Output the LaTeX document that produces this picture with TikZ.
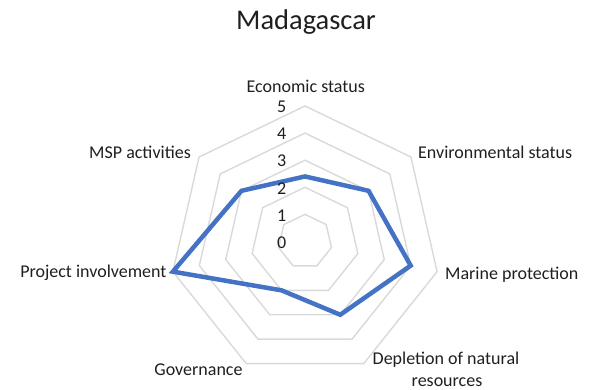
\documentclass[tikz,border=0pt]{standalone}
\usepackage{fontspec}
\setmainfont{Carlito}
\usetikzlibrary{calc}
\definecolor{gridgray}{HTML}{D9D9D9}
\definecolor{serblue}{HTML}{4472C4}
\definecolor{txt}{HTML}{1F1F1F}
\begin{document}
\begin{tikzpicture}[x=1pt,y=1pt,
  gridline/.style={draw=gridgray,line width=1.4pt,line join=miter},
  series/.style={draw=serblue,line width=4.5pt,line join=miter},
  lbl/.style={inner sep=0pt,text=txt,font=\fontsize{18}{22}\selectfont},
  ticklbl/.style={inner sep=0pt,text=txt,font=\fontsize{18}{22}\selectfont},
  titlelbl/.style={inner sep=0pt,text=txt,font=\fontsize{28.5}{33}\selectfont}]
\useasboundingbox (0,0) rectangle (589,390);
\coordinate (C) at (305,148.5);
\def\stp{27.1}
% grid heptagons
\foreach \r in {1,...,5}{
  \draw[gridline] ($(C)+(90:\r*\stp)$)
    \foreach \k in {1,...,6}{ -- ($(C)+({90-\k*360/7}:\r*\stp)$) } -- cycle;
}
% series
\foreach \v [count=\k from 0] in {2.4,3,4,3,2,5,3}{
  \coordinate (p\k) at ($(C)+({90-\k*360/7}:\v*\stp)$);
}
\draw[series] (p0) -- (p1) -- (p2) -- (p3) -- (p4) -- (p5) -- (p6) -- cycle;
% tick labels
\foreach \r in {0,...,5}{
  \node[ticklbl,anchor=center] (t\r) at (281.7,{148.5+\r*\stp-1}) {\r};
}
% axis labels
\node[lbl,anchor=base] (econ) at (305.8,297.3) {Economic status};
\node[lbl,anchor=base west] (env) at (418,231.5) {Environmental status};
\node[lbl,anchor=base west] (mar) at (445,110) {Marine protection};
\node[lbl,anchor=base] (dep) at (446,25) {Depletion of natural};
\node[lbl,anchor=base] (dep2) at (447,3.5) {resources};
\node[lbl,anchor=base] (gov) at (198.5,14) {Governance};
\node[lbl,anchor=base east] (proj) at (166.7,112) {Project involvement};
\node[lbl,anchor=base east] (msp) at (191,231) {MSP activities};
% title
\node[titlelbl,anchor=base] (title) at (306,360) {Madagascar};
\end{tikzpicture}
\end{document}
